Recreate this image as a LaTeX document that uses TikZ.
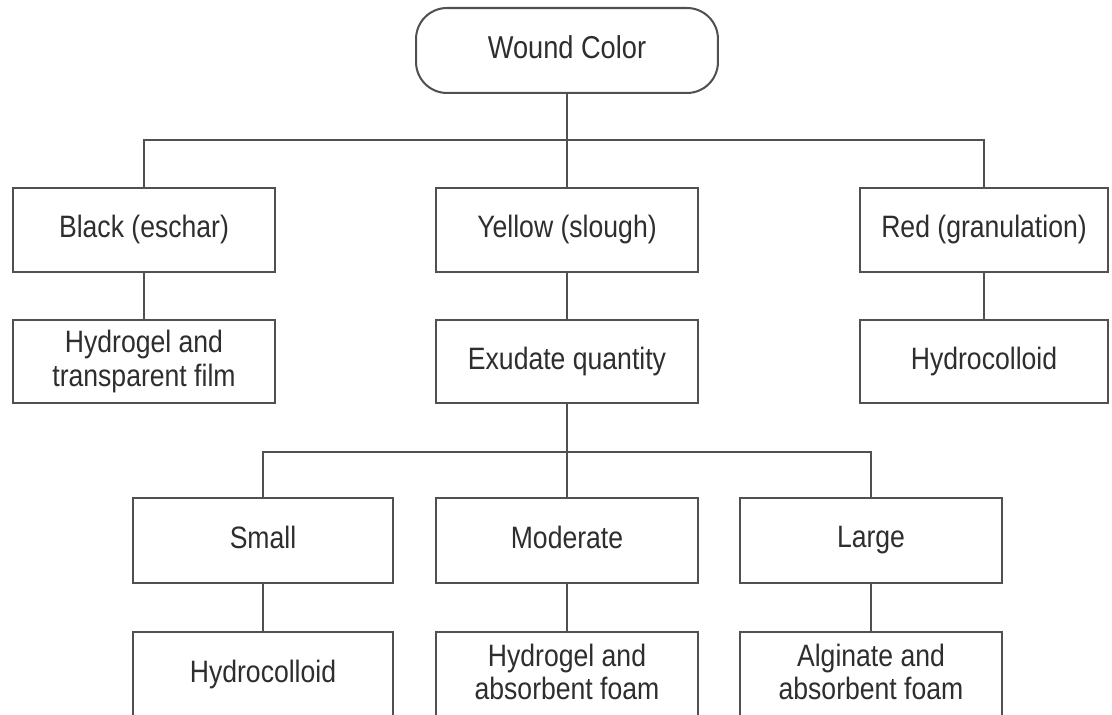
\documentclass[tikz,border=0pt]{standalone}
\usepackage{fontspec}
\setmainfont{Liberation Sans}[FakeStretch=0.86]
\usepackage{tikz}
\usetikzlibrary{positioning}
\definecolor{linegray}{HTML}{505050}
\definecolor{textgray}{HTML}{2E2E2E}

\begin{document}
\begin{tikzpicture}[x=0.02cm,y=-0.02cm,
  box/.style={draw=linegray,line width=1.15pt,fill=white,text=textgray,
    minimum height=1.68cm,inner sep=0pt,align=center,
    execute at begin node={\vphantom{Ag}},execute at end node={\vphantom{g}},
    font=\fontsize{17.6}{19}\selectfont},
  topbox/.style={box,rounded corners=0.62cm,minimum width=6.04cm,minimum height=1.7cm,
    font=\fontsize{18}{20}\selectfont},
  link/.style={draw=linegray,line width=1.15pt}]
\useasboundingbox (0,0) rectangle (1112,715);
\clip (0,0) rectangle (1112,715);
% top
\draw(567,50.5) node[topbox] (color) {Wound Color};
\coordinate (bus1) at (567,140);
% wound colours
\draw(144,230) node[box,minimum width=5.24cm] (black) {Black (eschar)};
\draw(567,230) node[box,minimum width=5.26cm] (yellow) {Yellow (slough)};
\draw(984,230) node[box,minimum width=4.96cm] (red) {Red (granulation)};
\draw(144,361.5) node[box,minimum width=5.24cm,minimum height=1.66cm] (film) {Hydrogel and\\transparent film};
\draw(567,361.5) node[box,minimum width=5.26cm,minimum height=1.66cm] (exudate) {Exudate quantity};
\draw(984,361.5) node[box,minimum width=4.96cm,minimum height=1.66cm] (colloidA) {Hydrocolloid};
\coordinate (bus2) at (567,452);
% exudate quantity
\draw(263,540.5) node[box,minimum width=5.2cm,minimum height=1.7cm] (small) {Small};
\draw(567,540.5) node[box,minimum width=5.24cm,minimum height=1.7cm] (moderate) {Moderate};
\draw(871,540.5) node[box,minimum width=5.24cm,minimum height=1.7cm] (large) {Large};
\draw(263,675) node[box,minimum width=5.2cm,minimum height=1.72cm] (colloidB) {Hydrocolloid};
\draw(567,675) node[box,minimum width=5.24cm,minimum height=1.72cm] (foamA) {Hydrogel and\\absorbent foam};
\draw(871,675) node[box,minimum width=5.24cm,minimum height=1.72cm] (foamB) {Alginate and\\absorbent foam};
% connectors
\draw[link] (color.south) -- (bus1);
\draw[link] (black.north) |- (bus1) -| (red.north);
\draw[link] (bus1) -- (yellow.north);
\draw[link] (black.south) -- (film.north);
\draw[link] (yellow.south) -- (exudate.north);
\draw[link] (red.south) -- (colloidA.north);
\draw[link] (exudate.south) -- (bus2);
\draw[link] (small.north) |- (bus2) -| (large.north);
\draw[link] (bus2) -- (moderate.north);
\draw[link] (small.south) -- (colloidB.north);
\draw[link] (moderate.south) -- (foamA.north);
\draw[link] (large.south) -- (foamB.north);
\end{tikzpicture}
\end{document}
